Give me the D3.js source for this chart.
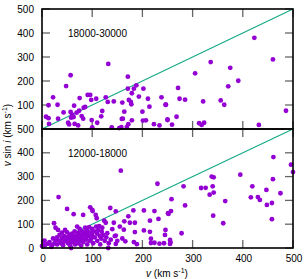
<!DOCTYPE html>
<html lang="en">
<head>
    <meta charset="utf-8">
    <title>v sin i vs v</title>
    <script type="text/javascript" src="https://d3js.org/d3.v7.min.js"></script>
    <style>
        body { margin: 0; background: #fff; }
        text { font-family: "Liberation Sans", Arial, sans-serif; font-size: 10px; fill: #000; }
    </style>
</head>
<body>
<script type="text/javascript">
        var w = 307;
        var h = 279;

        var left = 42, right = 293;
        var topPanel = [9, 129];
        var bottomPanel = [129, 248];

        var xTicks = [0, 100, 200, 300, 400, 500];
        var yTicks = [0, 100, 200, 300, 400, 500];

        var panelLabels = ["18000-30000", "12000-18000"];

        // [v, v sin i]
        var hotStars = [
            [132,271],[57,224],[48,179],[171,218],[22,132],[91,142],[96,142],[171,168],[188,182],[183,168],
            [179,149],[202,168],[193,135],[127,132],[75,129],[98,121],[108,126],[131,113],[143,115],[160,110],
            [173,121],[177,113],[178,103],[211,126],[238,132],[247,101],[31,101],[64,97],[86,92],[83,89],
            [74,76],[69,68],[43,69],[57,71],[120,75],[164,72],[200,72],[214,93],[8,51],[32,43],
            [60,60],[79,54],[82,43],[58,47],[63,50],[99,37],[118,53],[110,26],[52,26],[54,19],
            [65,21],[72,15],[100,7],[139,7],[159,42],[172,20],[179,36],[201,35],[207,36],[223,20],
            [234,15],[250,37],[154,4],[13,99],[13,45],[14,21],[161,43],[158,8],[169,8],[423,380],
            [460,290],[336,279],[375,255],[305,232],[391,201],[371,178],[271,171],[274,126],[285,122],[321,115],
            [356,119],[363,101],[246,101],[486,76],[250,40],[268,51],[259,18],[313,24],[318,17],[323,26],
            [432,17]
        ];

        var coolStars = [
            [5,31],[0,8],[3,29],[6,13],[19,5],[12,18],[15,25],[20,12],[24,104],[28,34],
            [27,85],[32,76],[33,214],[22,40],[25,20],[30,15],[30,45],[35,30],[35,55],[38,20],
            [40,40],[40,65],[42,12],[44,50],[45,28],[46,76],[48,35],[50,66],[50,164],[50,45],
            [51,43],[52,20],[55,55],[55,30],[56,10],[58,0],[58,42],[60,60],[60,25],[62,48],
            [63,142],[64,35],[65,70],[66,15],[68,52],[68,30],[70,90],[70,40],[72,62],[72,20],
            [74,45],[75,80],[76,30],[78,55],[78,10],[80,70],[80,38],[82,139],[82,25],[84,64],
            [85,48],[86,85],[88,35],[88,60],[90,75],[90,15],[92,50],[94,88],[95,30],[96,171],
            [96,65],[98,40],[100,160],[100,80],[100,55],[101,155],[102,20],[104,70],[105,45],[107,139],
            [108,90],[109,125],[110,60],[110,30],[112,75],[114,92],[115,50],[116,15],[118,40],[119,68],
            [120,85],[122,55],[124,115],[125,30],[127,106],[128,45],[130,62],[132,0],[133,20],[136,168],
            [137,35],[140,79],[143,106],[145,50],[147,154],[147,52],[147,17],[150,30],[155,90],[157,325],
            [160,40],[163,77],[164,112],[166,28],[172,133],[175,106],[182,158],[183,25],[185,106],[185,67],
            [189,16],[203,158],[203,74],[215,115],[215,68],[217,39],[217,21],[224,155],[224,22],[230,270],
            [232,122],[234,18],[243,20],[245,55],[246,76],[251,146],[252,143],[255,34],[256,24],[255,17],
            [257,155],[258,205],[278,62],[282,259],[285,179],[317,252],[326,253],[338,300],[342,297],[340,259],
            [334,224],[342,233],[341,136],[361,104],[365,197],[395,308],[416,213],[419,259],[430,214],[434,202],
            [447,244],[448,181],[458,189],[458,121],[460,289],[461,382],[475,230],[496,350],[500,319]
        ];

        var oneToOne = [[0, 0], [500, 500]];

        var svg = d3.select("body")
            .append("svg")
            .attr("width", w)
            .attr("height", h);

        var x = d3.scaleLinear().domain([0, 500]).range([left, right]);

        function panel(data, yr, label, showZero, showX) {
            var y = d3.scaleLinear().domain([0, 500]).range([yr[1], yr[0]]);
            var g = svg.append("g");
            var tl = 8;

            // ticks, all four sides, pointing in
            g.selectAll(".yl").data(yTicks).enter().append("line")
                .attr("x1", left).attr("x2", left + tl)
                .attr("y1", function(d) { return y(d); }).attr("y2", function(d) { return y(d); })
                .attr("stroke", "#666").attr("stroke-width", 1.3);
            g.selectAll(".yr").data(yTicks).enter().append("line")
                .attr("x1", right).attr("x2", right - tl)
                .attr("y1", function(d) { return y(d); }).attr("y2", function(d) { return y(d); })
                .attr("stroke", "#666").attr("stroke-width", 1.3);
            g.selectAll(".xt").data(xTicks).enter().append("line")
                .attr("x1", function(d) { return x(d); }).attr("x2", function(d) { return x(d); })
                .attr("y1", yr[0]).attr("y2", yr[0] + tl)
                .attr("stroke", "#666").attr("stroke-width", 1.3);
            g.selectAll(".xb").data(xTicks).enter().append("line")
                .attr("x1", function(d) { return x(d); }).attr("x2", function(d) { return x(d); })
                .attr("y1", yr[1]).attr("y2", yr[1] - tl)
                .attr("stroke", "#666").attr("stroke-width", 1.3);

            g.selectAll(".ylab").data(yTicks.filter(function(d) { return showZero || d > 0; }))
                .enter().append("text")
                .attr("x", 34)
                .attr("y", function(d) { return y(d) + 3.5; })
                .attr("text-anchor", "end")
                .text(function(d) { return d; });

            if(showX) {
                g.selectAll(".xlab").data(xTicks).enter().append("text")
                    .attr("x", function(d) { return x(d) + 1; })
                    .attr("y", yr[1] + 14)
                    .attr("text-anchor", "middle")
                    .text(function(d) { return d; });
            }

            g.append("path")
                .datum(oneToOne)
                .attr("d", d3.line().x(function(d) { return x(d[0]); }).y(function(d) { return y(d[1]); }))
                .attr("stroke", "#13a884")
                .attr("stroke-width", 1.1)
                .attr("fill", "none");

            g.selectAll("circle").data(data).enter().append("circle")
                .attr("cx", function(d) { return x(d[0]); })
                .attr("cy", function(d) { return y(d[1]); })
                .attr("r", 2.4)
                .attr("fill", "#9400d3");

            g.append("text")
                .attr("x", 68)
                .attr("y", y(400) + 4)
                .text(label);

            g.append("rect")
                .attr("x", left).attr("y", yr[0])
                .attr("width", right - left).attr("height", yr[1] - yr[0])
                .attr("fill", "none").attr("stroke", "#000").attr("stroke-width", 1.6);
        }

        panel(hotStars, topPanel, panelLabels[0], false, false);
        panel(coolStars, bottomPanel, panelLabels[1], true, true);

        // axis titles
        var yt = svg.append("text")
            .attr("transform", "translate(11," + 135 + ") rotate(-90)")
            .attr("text-anchor", "middle");
        yt.append("tspan").attr("font-style", "italic").text("v");
        yt.append("tspan").text(" sin ");
        yt.append("tspan").attr("font-style", "italic").text("i");
        yt.append("tspan").text(" (km s");
        yt.append("tspan").attr("dy", -4).style("font-size", "7px").text("-1");
        yt.append("tspan").attr("dy", 4).text(")");

        var xt = svg.append("text")
            .attr("x", 167)
            .attr("y", 277)
            .attr("text-anchor", "middle");
        xt.append("tspan").attr("font-style", "italic").text("v");
        xt.append("tspan").text(" (km s");
        xt.append("tspan").attr("dy", -4).style("font-size", "7px").text("-1");
        xt.append("tspan").attr("dy", 4).text(")");
</script>
</body>
</html>
